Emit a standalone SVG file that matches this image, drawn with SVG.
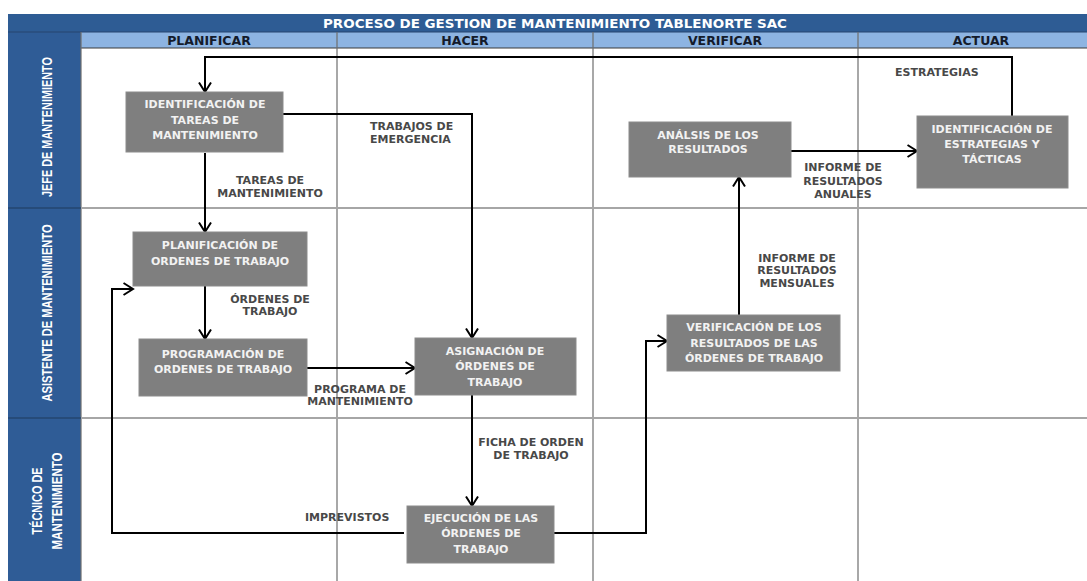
<svg xmlns="http://www.w3.org/2000/svg" width="1087" height="581" viewBox="0 0 1087 581">
<style>
.node rect{fill:#7f7f7f;stroke:#8c8c8c;stroke-width:1}
.node text{font-family:"DejaVu Sans","Liberation Sans",sans-serif;font-weight:bold;font-size:11px;fill:#f2f2f2;text-anchor:middle}
.lbl{font-family:"DejaVu Sans","Liberation Sans",sans-serif;font-weight:bold;font-size:11px;fill:#484848}
.mid{text-anchor:middle}
.hdr{font-family:"DejaVu Sans","Liberation Sans",sans-serif;font-weight:bold;font-size:12.5px;fill:#141b2b;text-anchor:middle}
.lane{font-family:"Liberation Sans","DejaVu Sans",sans-serif;font-weight:bold;font-size:15px;fill:#ffffff;text-anchor:middle}
.grid{stroke:#6e6e6e;stroke-width:1.2}
.sep{stroke:#a6a6a6;stroke-width:2}
#connectors path{fill:none;stroke:#000;stroke-width:2;marker-end:url(#arr)}
</style>
<defs>
<marker id="arr" viewBox="0 0 12 14" refX="10.5" refY="7" markerWidth="12" markerHeight="14" markerUnits="userSpaceOnUse" orient="auto">
<path d="M1,1 L10.5,7 L1,13" fill="none" stroke="#000" stroke-width="2"/>
</marker>
</defs>
<rect x="0" y="0" width="1087" height="581" fill="#ffffff"/>
<g id="frame">
<rect x="8" y="14" width="1079" height="18" fill="#2e5c94"/>
<rect x="8" y="32" width="73" height="549" fill="#2f5c96"/>
<rect x="81" y="32" width="1006" height="16" fill="#8db4e2"/>
<line x1="8" y1="32" x2="1087" y2="32" stroke="#26456e" stroke-width="1"/>
<line x1="81" y1="48" x2="1087" y2="48" stroke="#3a3a3a" stroke-width="1.2"/>
<line class="grid" x1="81" y1="32" x2="81" y2="581"/>
<line class="grid" x1="337" y1="32" x2="337" y2="581"/>
<line class="grid" x1="593" y1="32" x2="593" y2="581"/>
<line class="grid" x1="858" y1="32" x2="858" y2="581"/>
<line class="sep" x1="81" y1="208" x2="1087" y2="208"/>
<line class="sep" x1="81" y1="418" x2="1087" y2="418"/>
<line x1="8" y1="208" x2="81" y2="208" stroke="#24466f" stroke-width="1.5"/>
<line x1="8" y1="418" x2="81" y2="418" stroke="#24466f" stroke-width="1.5"/>
<text x="555" y="28" font-family="DejaVu Sans, Liberation Sans, sans-serif" font-weight="bold" font-size="13" fill="#ffffff" text-anchor="middle" textLength="464" lengthAdjust="spacingAndGlyphs">PROCESO DE GESTION DE MANTENIMIENTO TABLENORTE SAC</text>
<text class="hdr" x="209" y="45">PLANIFICAR</text>
<text class="hdr" x="465" y="45">HACER</text>
<text class="hdr" x="725" y="45">VERIFICAR</text>
<text class="hdr" x="981" y="45">ACTUAR</text>
<text class="lane" x="52" y="127" transform="rotate(-90 52 127)" textLength="140" lengthAdjust="spacingAndGlyphs">JEFE DE MANTENIMIENTO</text>
<text class="lane" x="52" y="313" transform="rotate(-90 52 313)" textLength="177" lengthAdjust="spacingAndGlyphs">ASISTENTE DE MANTENIMIENTO</text>
<text class="lane" x="42" y="501" transform="rotate(-90 42 501)" textLength="67" lengthAdjust="spacingAndGlyphs">TÉCNICO DE</text>
<text class="lane" x="62" y="501" transform="rotate(-90 62 501)" textLength="97" lengthAdjust="spacingAndGlyphs">MANTENIMIENTO</text>
</g>
<g id="connectors">
<path d="M1012,116 V57 H205 V92"/>
<path d="M283,114 H472 V338"/>
<path d="M205,153 V232"/>
<path d="M205,286 V339"/>
<path d="M307,368 H415"/>
<path d="M472,395 V506"/>
<path d="M404,533 H112 V289 H133"/>
<path d="M554,533 H646 V341 H667"/>
<path d="M739,315 V177"/>
<path d="M791,151 H917"/>
</g>
<g id="labels">
<text class="lbl mid" x="270" y="184">TAREAS DE</text>
<text class="lbl mid" x="270" y="197">MANTENIMIENTO</text>
<text class="lbl" x="370" y="130">TRABAJOS DE</text>
<text class="lbl" x="370" y="143">EMERGENCIA</text>
<text class="lbl" x="895" y="76">ESTRATEGIAS</text>
<text class="lbl mid" x="843" y="171">INFORME DE</text>
<text class="lbl mid" x="843" y="185">RESULTADOS</text>
<text class="lbl mid" x="843" y="198">ANUALES</text>
<text class="lbl mid" x="270" y="303">ÓRDENES DE</text>
<text class="lbl mid" x="270" y="315">TRABAJO</text>
<text class="lbl mid" x="360" y="393">PROGRAMA DE</text>
<text class="lbl mid" x="360" y="405">MANTENIMIENTO</text>
<text class="lbl mid" x="797" y="262">INFORME DE</text>
<text class="lbl mid" x="797" y="274">RESULTADOS</text>
<text class="lbl mid" x="797" y="287">MENSUALES</text>
<text class="lbl mid" x="531" y="446">FICHA DE ORDEN</text>
<text class="lbl mid" x="531" y="459">DE TRABAJO</text>
<text class="lbl" x="305" y="521">IMPREVISTOS</text>
</g>
<g id="n1" class="node">
<rect x="126" y="92" width="157" height="60"/>
<text x="205" y="108">IDENTIFICACIÓN DE</text>
<text x="205" y="124">TAREAS DE</text>
<text x="205" y="139">MANTENIMIENTO</text>
</g>
<g id="n2" class="node">
<rect x="133" y="232" width="174" height="54"/>
<text x="220" y="249">PLANIFICACIÓN DE</text>
<text x="220" y="265">ORDENES DE TRABAJO</text>
</g>
<g id="n3" class="node">
<rect x="139" y="339" width="168" height="57"/>
<text x="223" y="358">PROGRAMACIÓN DE</text>
<text x="223" y="373">ORDENES DE TRABAJO</text>
</g>
<g id="n4" class="node">
<rect x="415" y="338" width="161" height="57"/>
<text x="495" y="355">ASIGNACIÓN DE</text>
<text x="495" y="370">ÓRDENES DE</text>
<text x="495" y="386">TRABAJO</text>
</g>
<g id="n5" class="node">
<rect x="407" y="506" width="147" height="57"/>
<text x="481" y="522">EJECUCIÓN DE LAS</text>
<text x="481" y="537">ÓRDENES DE</text>
<text x="481" y="553">TRABAJO</text>
</g>
<g id="n6" class="node">
<rect x="667" y="315" width="173" height="56"/>
<text x="754" y="331">VERIFICACIÓN DE LOS</text>
<text x="754" y="347">RESULTADOS DE LAS</text>
<text x="754" y="362">ÓRDENES DE TRABAJO</text>
</g>
<g id="n7" class="node">
<rect x="629" y="122" width="162" height="55"/>
<text x="708" y="139">ANÁLSIS DE LOS</text>
<text x="708" y="153">RESULTADOS</text>
</g>
<g id="n8" class="node">
<rect x="917" y="116" width="151" height="72"/>
<text x="992" y="133">IDENTIFICACIÓN DE</text>
<text x="992" y="148">ESTRATEGIAS Y</text>
<text x="992" y="163">TÁCTICAS</text>
</g>
</svg>
